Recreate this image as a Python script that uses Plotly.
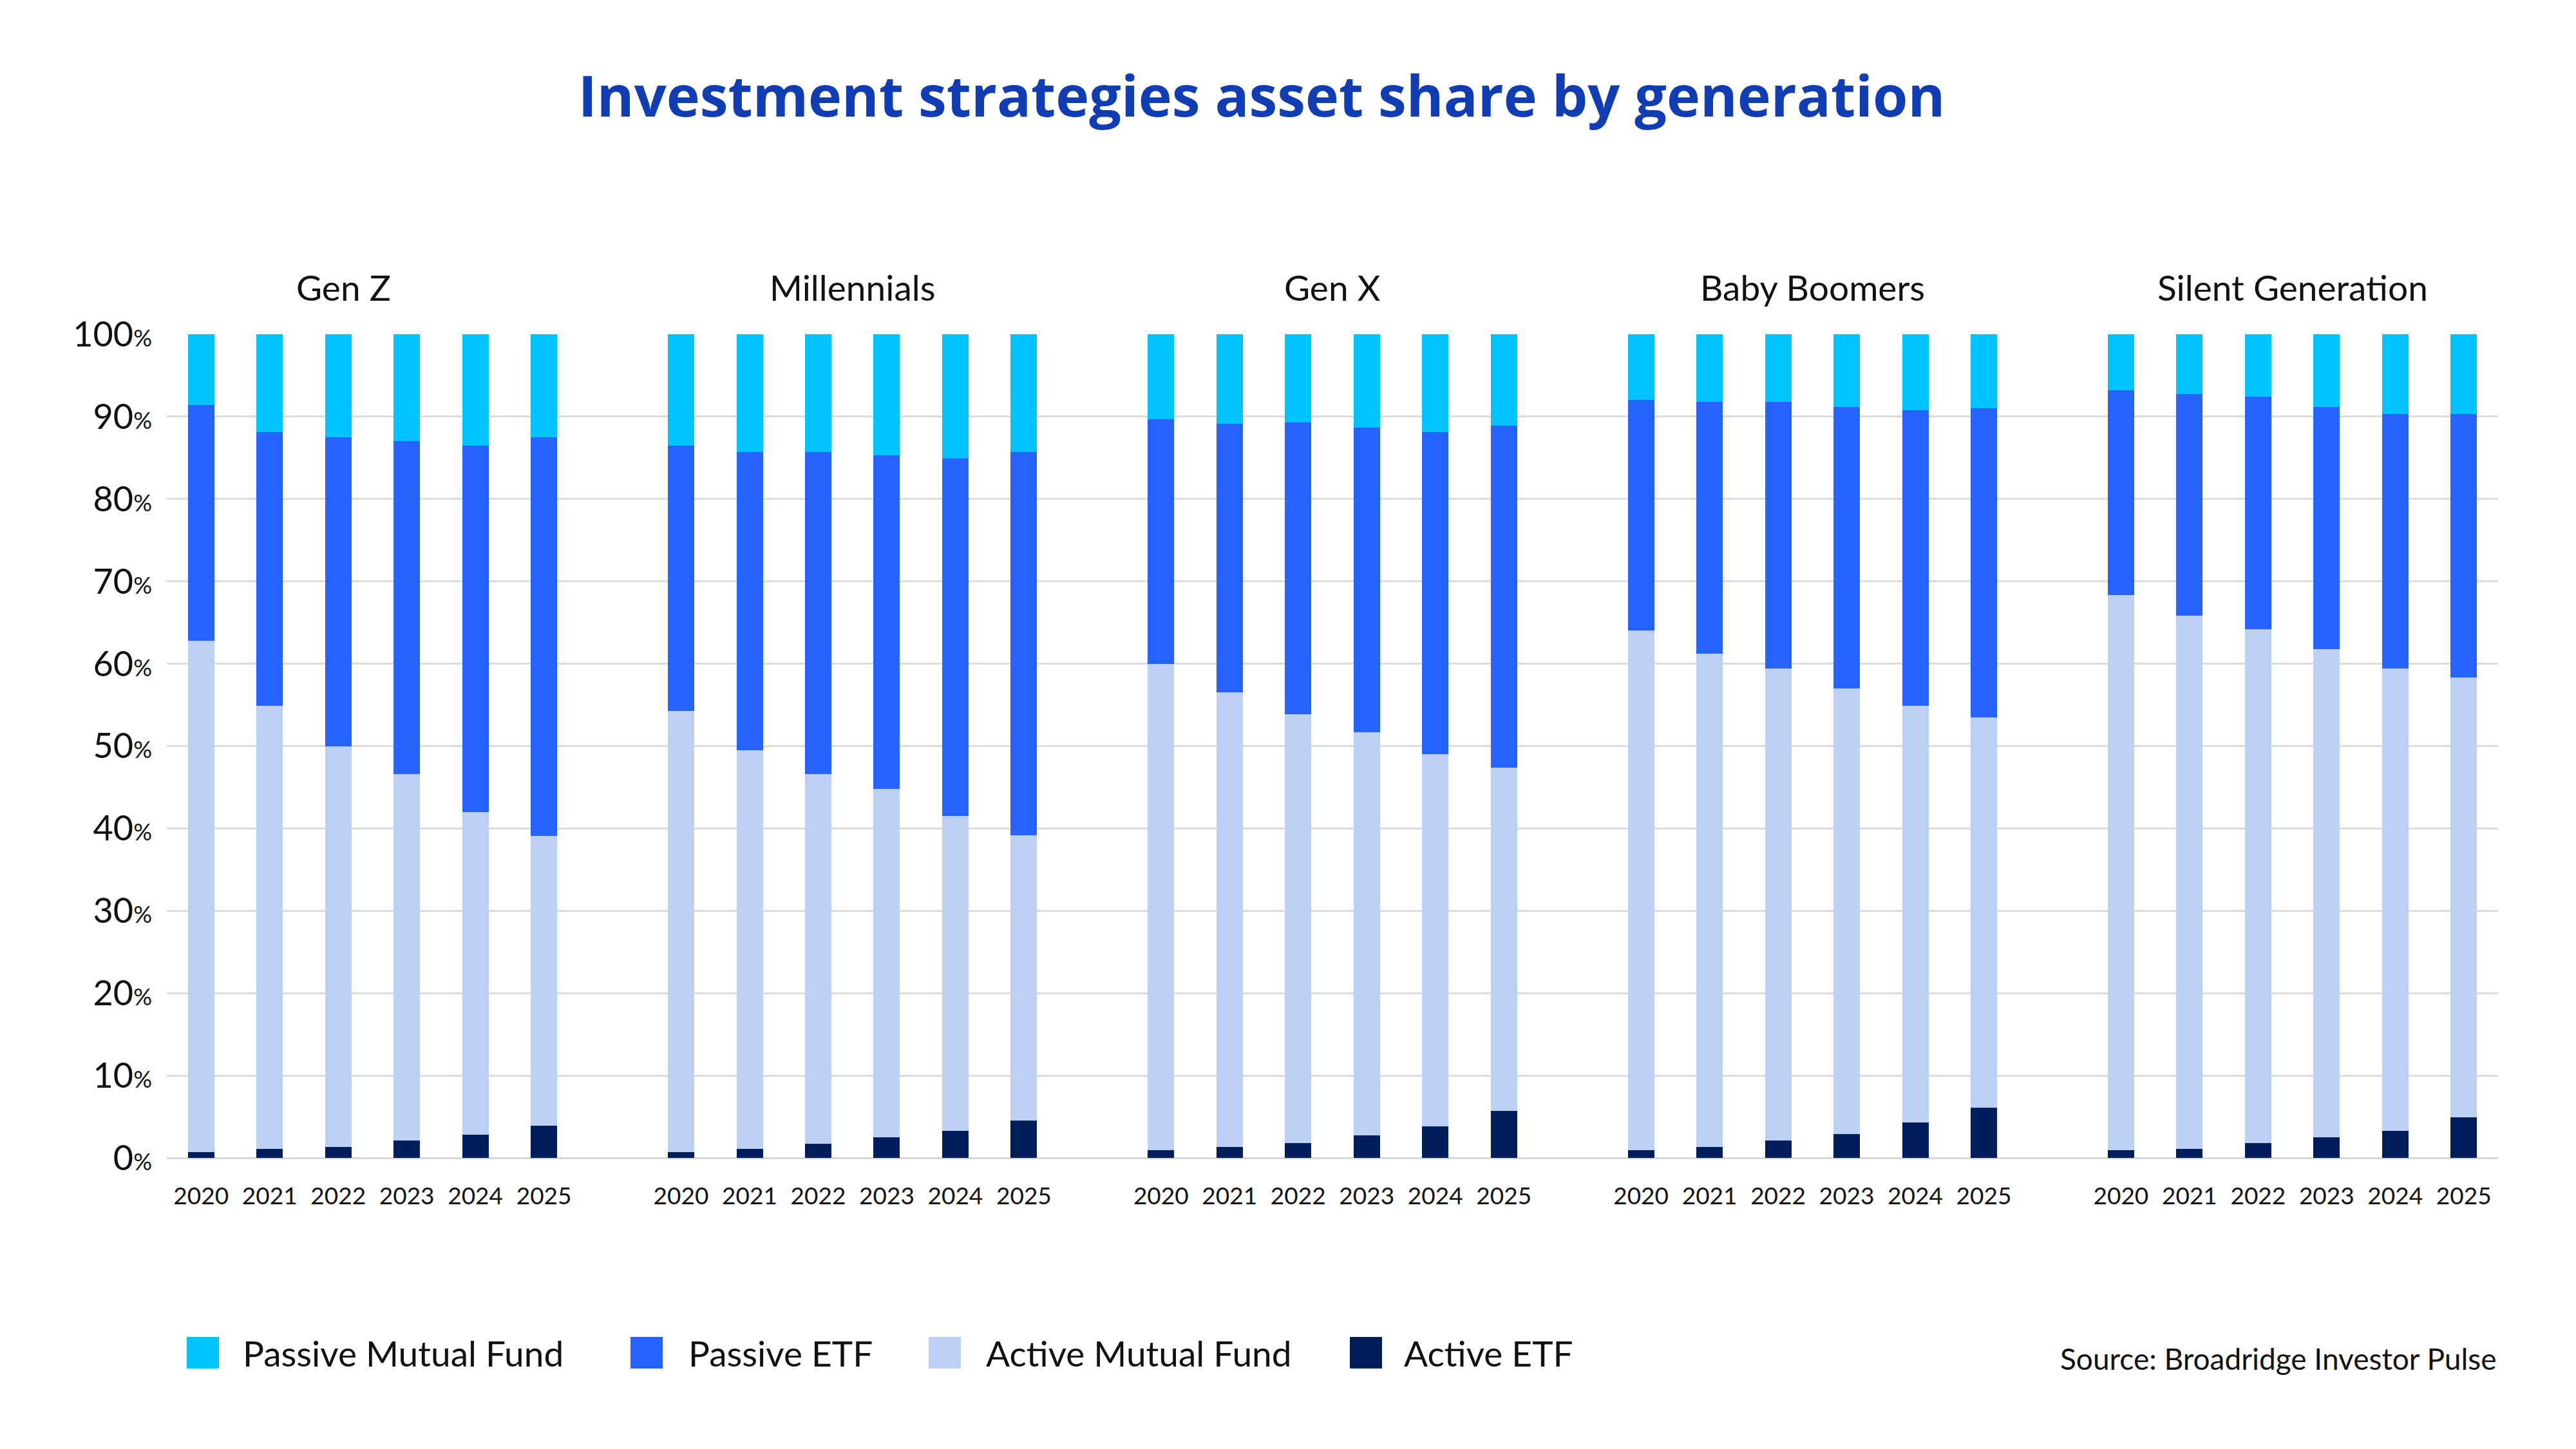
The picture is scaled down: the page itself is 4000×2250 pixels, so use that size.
import plotly.graph_objects as go

# ---------------- data ----------------
generations = ["Gen Z", "Millennials", "Gen X", "Baby Boomers", "Silent Generation"]
years = ["2020", "2021", "2022", "2023", "2024", "2025"]

series_names = ["Active ETF", "Active Mutual Fund", "Passive ETF", "Passive Mutual Fund"]
series_colors = ["#001E5A", "#BCD0F5", "#2662FF", "#00C3FF"]

# values per generation, one value per year (percent of assets)
active_etf = {
    "Gen Z":             [0.7, 1.1, 1.3, 2.1, 2.8, 3.9],
    "Millennials":       [0.7, 1.1, 1.7, 2.5, 3.3, 4.5],
    "Gen X":             [0.9, 1.3, 1.8, 2.7, 3.8, 5.7],
    "Baby Boomers":      [0.9, 1.3, 2.1, 2.9, 4.3, 6.1],
    "Silent Generation": [0.9, 1.1, 1.8, 2.5, 3.3, 4.9],
}
active_mf = {
    "Gen Z":             [62.1, 53.8, 48.7, 44.5, 39.2, 35.2],
    "Millennials":       [53.6, 48.4, 44.9, 42.3, 38.2, 34.7],
    "Gen X":             [59.1, 55.2, 52.1, 49.0, 45.2, 41.7],
    "Baby Boomers":      [63.1, 59.9, 57.3, 54.1, 50.6, 47.4],
    "Silent Generation": [67.4, 64.7, 62.4, 59.3, 56.1, 53.4],
}
passive_etf = {
    "Gen Z":             [28.6, 33.2, 37.5, 40.4, 44.5, 48.4],
    "Millennials":       [32.2, 36.2, 39.1, 40.5, 43.4, 46.5],
    "Gen X":             [29.7, 32.6, 35.4, 37.0, 39.1, 41.5],
    "Baby Boomers":      [28.0, 30.6, 32.4, 34.2, 35.9, 37.5],
    "Silent Generation": [24.9, 26.9, 28.2, 29.4, 30.9, 32.0],
}
passive_mf = {
    "Gen Z":             [8.6, 11.9, 12.5, 13.0, 13.5, 12.5],
    "Millennials":       [13.5, 14.3, 14.3, 14.7, 15.1, 14.3],
    "Gen X":             [10.3, 10.9, 10.7, 11.3, 11.9, 11.1],
    "Baby Boomers":      [8.0, 8.2, 8.2, 8.8, 9.2, 9.0],
    "Silent Generation": [6.8, 7.3, 7.6, 8.8, 9.7, 9.7],
}
series_data = [active_etf, active_mf, passive_etf, passive_mf]

y_ticks = [0, 10, 20, 30, 40, 50, 60, 70, 80, 90, 100]
source_text = "Source: Broadridge Investor Pulse"
title_text = "Investment strategies asset share by generation"

# ---------------- layout helpers ----------------
FONT = "Lato"
W, H = 4000, 2250
ML, MR, MT, MB = 259, 121, 519, 452
PW = W - ML - MR
PH = H - MT - MB
SLOT = len(years) + 1  # one empty slot between generations

x_pos = []
x_text = []
for g, gen in enumerate(generations):
    for i, yr in enumerate(years):
        x_pos.append(g * SLOT + i)
        x_text.append(yr)

fig = go.Figure()
for name, color, data in zip(series_names, series_colors, series_data):
    vals = []
    for gen in generations:
        vals.extend(data[gen])
    fig.add_trace(go.Bar(
        x=x_pos, y=vals, name=name, width=0.385,
        marker=dict(color=color, line=dict(width=0)),
        showlegend=False,
    ))

def px_to_paper_x(px):
    return (px - ML) / PW

def px_to_paper_y(py):
    return (H - MB - py) / PH

annotations = []
# generation labels above each group
for g, gen in enumerate(generations):
    cx = g * SLOT + (len(years) - 1) / 2
    if g == 0:
        cx -= 0.42
    annotations.append(dict(
        x=cx, xref="x", y=px_to_paper_y(446), yref="paper",
        text=gen, showarrow=False, xanchor="center", yanchor="middle",
        font=dict(family=FONT, size=55, color="#111111"),
    ))

# manual legend (order: Passive MF, Passive ETF, Active MF, Active ETF)
legend_order = [3, 2, 1, 0]
swatch_x = [290, 979, 1442, 2096]
text_x = [375, 1067, 1529, 2178]
shapes = []
for k, idx in enumerate(legend_order):
    shapes.append(dict(
        type="rect", xref="paper", yref="paper",
        x0=px_to_paper_x(swatch_x[k]), x1=px_to_paper_x(swatch_x[k] + 50),
        y0=px_to_paper_y(2125), y1=px_to_paper_y(2076),
        fillcolor=series_colors[idx], line=dict(width=0),
    ))
    annotations.append(dict(
        x=px_to_paper_x(text_x[k]), xref="paper", y=px_to_paper_y(2101), yref="paper",
        text=series_names[idx], showarrow=False, xanchor="left", yanchor="middle",
        font=dict(family=FONT, size=55, color="#111111"),
    ))

annotations.append(dict(
    x=1.0, xref="paper", y=px_to_paper_y(2109), yref="paper",
    text=source_text, showarrow=False, xanchor="right", yanchor="middle",
    font=dict(family=FONT, size=46, color="#111111"),
))

y_text = [f"{v}<span style='font-size:36px'>%</span>" for v in y_ticks]

fig.update_layout(
    width=W, height=H,
    margin=dict(l=ML, r=MR, t=MT, b=MB, pad=0),
    paper_bgcolor="white", plot_bgcolor="white",
    barmode="stack",
    title=dict(
        text=f"<b>{title_text}</b>", x=1959 / W, xanchor="center",
        y=1 - 150 / H, yanchor="middle",
        font=dict(family="Open Sans", size=88, color="#103CB4"),
    ),
    xaxis=dict(
        range=[-0.5, (len(generations) - 1) * SLOT + len(years) - 0.5],
        tickmode="array", tickvals=x_pos, ticktext=x_text,
        showgrid=False, zeroline=False, showline=False, ticks="",
        tickfont=dict(family=FONT, size=37, color="#111111"),
        ticklabelstandoff=34,
    ),
    yaxis=dict(
        range=[0, 100], tickmode="array", tickvals=y_ticks, ticktext=y_text,
        showgrid=True, gridcolor="#DCDCDC", gridwidth=2.5,
        zeroline=True, zerolinecolor="#D6D6D6", zerolinewidth=3,
        showline=False, ticks="",
        tickfont=dict(family=FONT, size=54, color="#111111"),
        ticklabelstandoff=22,
    ),
    annotations=annotations,
    shapes=shapes,
)

fig.write_html(
    "out.html",
    config={"displayModeBar": False},
    post_script="document.body.style.margin='0';document.body.style.overflow='hidden';",
)
